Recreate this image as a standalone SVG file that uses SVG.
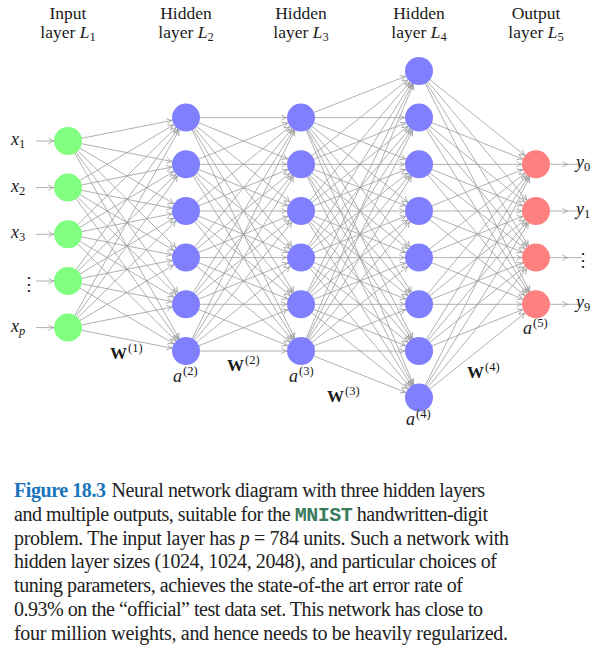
<svg xmlns="http://www.w3.org/2000/svg" width="599" height="646" viewBox="0 0 599 646">
<style>
text{font-family:"Liberation Serif","Times New Roman",serif;fill:#1a1a1a}
.t{font-size:17.5px}
.m{font-size:18px}
.i{font-style:italic}
.s{font-size:12.5px;font-style:normal;font-weight:normal}
.si{font-size:12.5px;font-style:italic}
.w{font-size:17px;font-weight:bold}
.cap{font-size:20px;fill:#222}
.e path{stroke:#9c9c9c;stroke-width:0.8;fill:none;marker-end:url(#ah)}
.g1{fill:#80ff80}.g2{fill:#8080ff}.g3{fill:#ff8080}
</style>
<defs>
<marker id="ah" markerUnits="userSpaceOnUse" orient="auto" refX="0" refY="0" markerWidth="1" markerHeight="1" overflow="visible">
<path d="M-19.6,-2.8 Q-16.6,-0.7 -14.3,0 Q-16.6,0.7 -19.6,2.8" fill="none" stroke="#9c9c9c" stroke-width="0.8"/>
</marker>
</defs>

<g id="titles">
<text class="t" x="68" y="19" text-anchor="middle">Input</text>
<text class="t" x="68" y="38" text-anchor="middle">layer <tspan class="i">L</tspan><tspan class="s" dy="3">1</tspan></text>
<text class="t" x="186" y="19" text-anchor="middle">Hidden</text>
<text class="t" x="186" y="38" text-anchor="middle">layer <tspan class="i">L</tspan><tspan class="s" dy="3">2</tspan></text>
<text class="t" x="301" y="19" text-anchor="middle">Hidden</text>
<text class="t" x="301" y="38" text-anchor="middle">layer <tspan class="i">L</tspan><tspan class="s" dy="3">3</tspan></text>
<text class="t" x="419" y="19" text-anchor="middle">Hidden</text>
<text class="t" x="419" y="38" text-anchor="middle">layer <tspan class="i">L</tspan><tspan class="s" dy="3">4</tspan></text>
<text class="t" x="536" y="19" text-anchor="middle">Output</text>
<text class="t" x="536" y="38" text-anchor="middle">layer <tspan class="i">L</tspan><tspan class="s" dy="3">5</tspan></text>
</g>

<g id="connectors" class="e">
<path d="M36 141L68 141"/><path d="M36 187.6L68 187.6"/><path d="M36 234.3L68 234.3"/><path d="M36 281L68 281"/><path d="M36 327.6L68 327.6"/>
<path d="M536 164.3L582 164.3"/><path d="M536 211L582 211"/><path d="M536 257.6L582 257.6"/><path d="M536 304.3L582 304.3"/>
<path d="M68 141L186 117.6"/><path d="M68 141L186 164.3"/><path d="M68 141L186 211"/><path d="M68 141L186 257.6"/><path d="M68 141L186 304.3"/><path d="M68 141L186 351"/>
<path d="M68 187.6L186 117.6"/><path d="M68 187.6L186 164.3"/><path d="M68 187.6L186 211"/><path d="M68 187.6L186 257.6"/><path d="M68 187.6L186 304.3"/><path d="M68 187.6L186 351"/>
<path d="M68 234.3L186 117.6"/><path d="M68 234.3L186 164.3"/><path d="M68 234.3L186 211"/><path d="M68 234.3L186 257.6"/><path d="M68 234.3L186 304.3"/><path d="M68 234.3L186 351"/>
<path d="M68 281L186 117.6"/><path d="M68 281L186 164.3"/><path d="M68 281L186 211"/><path d="M68 281L186 257.6"/><path d="M68 281L186 304.3"/><path d="M68 281L186 351"/>
<path d="M68 327.6L186 117.6"/><path d="M68 327.6L186 164.3"/><path d="M68 327.6L186 211"/><path d="M68 327.6L186 257.6"/><path d="M68 327.6L186 304.3"/><path d="M68 327.6L186 351"/>
<path d="M186 117.6L301 117.6"/><path d="M186 117.6L301 164.3"/><path d="M186 117.6L301 211"/><path d="M186 117.6L301 257.6"/><path d="M186 117.6L301 304.3"/><path d="M186 117.6L301 351"/>
<path d="M186 164.3L301 117.6"/><path d="M186 164.3L301 164.3"/><path d="M186 164.3L301 211"/><path d="M186 164.3L301 257.6"/><path d="M186 164.3L301 304.3"/><path d="M186 164.3L301 351"/>
<path d="M186 211L301 117.6"/><path d="M186 211L301 164.3"/><path d="M186 211L301 211"/><path d="M186 211L301 257.6"/><path d="M186 211L301 304.3"/><path d="M186 211L301 351"/>
<path d="M186 257.6L301 117.6"/><path d="M186 257.6L301 164.3"/><path d="M186 257.6L301 211"/><path d="M186 257.6L301 257.6"/><path d="M186 257.6L301 304.3"/><path d="M186 257.6L301 351"/>
<path d="M186 304.3L301 117.6"/><path d="M186 304.3L301 164.3"/><path d="M186 304.3L301 211"/><path d="M186 304.3L301 257.6"/><path d="M186 304.3L301 304.3"/><path d="M186 304.3L301 351"/>
<path d="M186 351L301 117.6"/><path d="M186 351L301 164.3"/><path d="M186 351L301 211"/><path d="M186 351L301 257.6"/><path d="M186 351L301 304.3"/><path d="M186 351L301 351"/>
<path d="M301 117.6L419 71"/><path d="M301 117.6L419 117.6"/><path d="M301 117.6L419 164.3"/><path d="M301 117.6L419 211"/><path d="M301 117.6L419 257.6"/><path d="M301 117.6L419 304.3"/><path d="M301 117.6L419 351"/><path d="M301 117.6L419 397.6"/>
<path d="M301 164.3L419 71"/><path d="M301 164.3L419 117.6"/><path d="M301 164.3L419 164.3"/><path d="M301 164.3L419 211"/><path d="M301 164.3L419 257.6"/><path d="M301 164.3L419 304.3"/><path d="M301 164.3L419 351"/><path d="M301 164.3L419 397.6"/>
<path d="M301 211L419 71"/><path d="M301 211L419 117.6"/><path d="M301 211L419 164.3"/><path d="M301 211L419 211"/><path d="M301 211L419 257.6"/><path d="M301 211L419 304.3"/><path d="M301 211L419 351"/><path d="M301 211L419 397.6"/>
<path d="M301 257.6L419 71"/><path d="M301 257.6L419 117.6"/><path d="M301 257.6L419 164.3"/><path d="M301 257.6L419 211"/><path d="M301 257.6L419 257.6"/><path d="M301 257.6L419 304.3"/><path d="M301 257.6L419 351"/><path d="M301 257.6L419 397.6"/>
<path d="M301 304.3L419 71"/><path d="M301 304.3L419 117.6"/><path d="M301 304.3L419 164.3"/><path d="M301 304.3L419 211"/><path d="M301 304.3L419 257.6"/><path d="M301 304.3L419 304.3"/><path d="M301 304.3L419 351"/><path d="M301 304.3L419 397.6"/>
<path d="M301 351L419 71"/><path d="M301 351L419 117.6"/><path d="M301 351L419 164.3"/><path d="M301 351L419 211"/><path d="M301 351L419 257.6"/><path d="M301 351L419 304.3"/><path d="M301 351L419 351"/><path d="M301 351L419 397.6"/>
<path d="M419 71L536 164.3"/><path d="M419 71L536 211"/><path d="M419 71L536 257.6"/><path d="M419 71L536 304.3"/>
<path d="M419 117.6L536 164.3"/><path d="M419 117.6L536 211"/><path d="M419 117.6L536 257.6"/><path d="M419 117.6L536 304.3"/>
<path d="M419 164.3L536 164.3"/><path d="M419 164.3L536 211"/><path d="M419 164.3L536 257.6"/><path d="M419 164.3L536 304.3"/>
<path d="M419 211L536 164.3"/><path d="M419 211L536 211"/><path d="M419 211L536 257.6"/><path d="M419 211L536 304.3"/>
<path d="M419 257.6L536 164.3"/><path d="M419 257.6L536 211"/><path d="M419 257.6L536 257.6"/><path d="M419 257.6L536 304.3"/>
<path d="M419 304.3L536 164.3"/><path d="M419 304.3L536 211"/><path d="M419 304.3L536 257.6"/><path d="M419 304.3L536 304.3"/>
<path d="M419 351L536 164.3"/><path d="M419 351L536 211"/><path d="M419 351L536 257.6"/><path d="M419 351L536 304.3"/>
<path d="M419 397.6L536 164.3"/><path d="M419 397.6L536 211"/><path d="M419 397.6L536 257.6"/><path d="M419 397.6L536 304.3"/>
</g>

<g id="layer1">
<g id="n1_1"><circle class="g1" cx="68" cy="141" r="14"/></g>
<g id="n1_2"><circle class="g1" cx="68" cy="187.6" r="14"/></g>
<g id="n1_3"><circle class="g1" cx="68" cy="234.3" r="14"/></g>
<g id="n1_4"><circle class="g1" cx="68" cy="281" r="14"/></g>
<g id="n1_5"><circle class="g1" cx="68" cy="327.6" r="14"/></g>
</g>
<g id="layer2">
<g id="n2_1"><circle class="g2" cx="186" cy="117.6" r="14"/></g>
<g id="n2_2"><circle class="g2" cx="186" cy="164.3" r="14"/></g>
<g id="n2_3"><circle class="g2" cx="186" cy="211" r="14"/></g>
<g id="n2_4"><circle class="g2" cx="186" cy="257.6" r="14"/></g>
<g id="n2_5"><circle class="g2" cx="186" cy="304.3" r="14"/></g>
<g id="n2_6"><circle class="g2" cx="186" cy="351" r="14"/></g>
</g>
<g id="layer3">
<g id="n3_1"><circle class="g2" cx="301" cy="117.6" r="14"/></g>
<g id="n3_2"><circle class="g2" cx="301" cy="164.3" r="14"/></g>
<g id="n3_3"><circle class="g2" cx="301" cy="211" r="14"/></g>
<g id="n3_4"><circle class="g2" cx="301" cy="257.6" r="14"/></g>
<g id="n3_5"><circle class="g2" cx="301" cy="304.3" r="14"/></g>
<g id="n3_6"><circle class="g2" cx="301" cy="351" r="14"/></g>
</g>
<g id="layer4">
<g id="n4_1"><circle class="g2" cx="419" cy="71" r="14"/></g>
<g id="n4_2"><circle class="g2" cx="419" cy="117.6" r="14"/></g>
<g id="n4_3"><circle class="g2" cx="419" cy="164.3" r="14"/></g>
<g id="n4_4"><circle class="g2" cx="419" cy="211" r="14"/></g>
<g id="n4_5"><circle class="g2" cx="419" cy="257.6" r="14"/></g>
<g id="n4_6"><circle class="g2" cx="419" cy="304.3" r="14"/></g>
<g id="n4_7"><circle class="g2" cx="419" cy="351" r="14"/></g>
<g id="n4_8"><circle class="g2" cx="419" cy="397.6" r="14"/></g>
</g>
<g id="layer5">
<g id="n5_1"><circle class="g3" cx="536" cy="164.3" r="14"/></g>
<g id="n5_2"><circle class="g3" cx="536" cy="211" r="14"/></g>
<g id="n5_3"><circle class="g3" cx="536" cy="257.6" r="14"/></g>
<g id="n5_4"><circle class="g3" cx="536" cy="304.3" r="14"/></g>
</g>

<g id="labels">
<text class="m i" x="11" y="145">x<tspan class="s" dy="3">1</tspan></text>
<text class="m i" x="11" y="191.6">x<tspan class="s" dy="3">2</tspan></text>
<text class="m i" x="11" y="238.3">x<tspan class="s" dy="3">3</tspan></text>
<text class="m" x="20" y="290">⋮</text>
<text class="m i" x="11" y="331.6">x<tspan class="si" dy="3">p</tspan></text>
<text class="m i" x="576" y="168.3">y<tspan class="s" dy="3">0</tspan></text>
<text class="m i" x="576" y="215">y<tspan class="s" dy="3">1</tspan></text>
<text class="m" x="574" y="266">⋮</text>
<text class="m i" x="576" y="308.3">y<tspan class="s" dy="3">9</tspan></text>
<text class="w" x="110" y="359">W<tspan class="s" dx="1" dy="-7">(1)</tspan></text>
<text class="w" x="227" y="371">W<tspan class="s" dx="1" dy="-7">(2)</tspan></text>
<text class="w" x="327" y="402">W<tspan class="s" dx="1" dy="-7">(3)</tspan></text>
<text class="w" x="467" y="378">W<tspan class="s" dx="1" dy="-7">(4)</tspan></text>
<text class="m i" x="173" y="382">a<tspan class="s" dx="1" dy="-7">(2)</tspan></text>
<text class="m i" x="289" y="382">a<tspan class="s" dx="1" dy="-7">(3)</tspan></text>
<text class="m i" x="406" y="425">a<tspan class="s" dx="1" dy="-7">(4)</tspan></text>
<text class="m i" x="523" y="334">a<tspan class="s" dx="1" dy="-7">(5)</tspan></text>
</g>

<g id="caption">
<text class="cap" x="14" y="497" textLength="471" lengthAdjust="spacing"><tspan font-weight="bold" fill="#1a75bc">Figure 18.3</tspan><tspan dx="6">Neural network diagram with three hidden layers</tspan></text>
<text class="cap" x="14" y="520.8" textLength="474" lengthAdjust="spacing">and multiple outputs, suitable for the <tspan font-family="'Liberation Mono',monospace" font-weight="bold" fill="#3c7a5c">MNIST</tspan> handwritten-digit</text>
<text class="cap" x="14" y="544.6" textLength="495" lengthAdjust="spacing">problem. The input layer has <tspan font-style="italic">p</tspan> = 784 units. Such a network with</text>
<text class="cap" x="14" y="568.4" textLength="483" lengthAdjust="spacing">hidden layer sizes (1024, 1024, 2048), and particular choices of</text>
<text class="cap" x="14" y="592.2" textLength="449" lengthAdjust="spacing">tuning parameters, achieves the state-of-the art error rate of</text>
<text class="cap" x="14" y="616" textLength="469" lengthAdjust="spacing">0.93% on the “official” test data set. This network has close to</text>
<text class="cap" x="14" y="639.8" textLength="494" lengthAdjust="spacing">four million weights, and hence needs to be heavily regularized.</text>
</g>
</svg>
